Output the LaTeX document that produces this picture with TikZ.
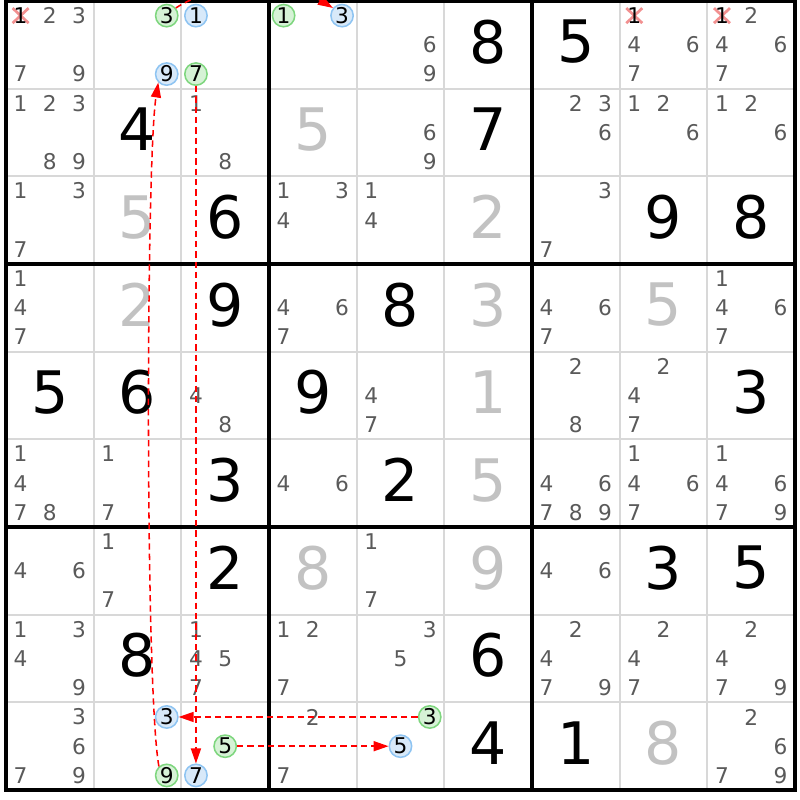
\documentclass[tikz,border=0pt]{standalone}
\usepackage{fontspec}
\setmainfont{DejaVu Sans}
\usetikzlibrary{arrows.meta}
\definecolor{candgrey}{HTML}{5A5A5A}
\definecolor{solvedgrey}{HTML}{C2C2C2}
\definecolor{thingrid}{HTML}{D8D8D8}
\definecolor{gfill}{HTML}{D6F2D6}
\definecolor{gline}{HTML}{7ED67E}
\definecolor{bfill}{HTML}{D8E9F9}
\definecolor{bline}{HTML}{8EC4F2}
\definecolor{crossred}{HTML}{F29090}
\newcommand\candpos[3]{%
  \pgfmathsetmacro\cxx{6+87.67*(#2-1)+29.222*(mod(#3-1,3)+0.5)}%
  \pgfmathsetmacro\cyy{1+87.67*(#1-1)+29.222*(int((#3-1)/3)+0.5)}}
\begin{document}
\begin{tikzpicture}[x=0.03cm,y=-0.03cm,
  cand/.style={font=\fontsize{18.5}{19}\selectfont, text=candgrey, inner sep=0pt},
  candk/.style={font=\fontsize{18.5}{19}\selectfont, text=black, inner sep=0pt},
  given/.style={font=\fontsize{50}{50}\selectfont, text=black, inner sep=0pt},
  solved/.style={font=\fontsize{50}{50}\selectfont, text=solvedgrey, inner sep=0pt},
  circg/.style={circle, draw=gline, fill=gfill, line width=1.3pt, minimum size=0.67cm, inner sep=0pt, font=\fontsize{18.5}{19}\selectfont},
  circb/.style={circle, draw=bline, fill=bfill, line width=1.3pt, minimum size=0.67cm, inner sep=0pt, font=\fontsize{18.5}{19}\selectfont},
  thinline/.style={draw=thingrid, line width=1.7pt},
  thickline/.style={draw=black, line width=3pt},
  crossmark/.style={draw=crossred, line width=2.3pt},
  chain/.style={draw=red, line width=1.3pt, dash pattern=on 1.9mm off 1.2mm, -{Triangle[length=4.5mm,width=3mm]}}
]
\useasboundingbox (0,0) rectangle (800,800);
\clip (0,0) rectangle (800,800);
\fill[white] (0,0) rectangle (800,800);
% thin grid lines
\foreach \k in {1,2,4,5,7,8} {
  \draw[thinline] ({6+87.67*\k},1) -- ({6+87.67*\k},790);
  \draw[thinline] (6,{1+87.67*\k}) -- (795,{1+87.67*\k});
}
% pencil marks
\foreach \r/\c/\ds in {
  1/1/{2,3,7,9}, 1/5/{6,9}, 1/8/{4,6,7}, 1/9/{2,4,6,7},
  2/1/{1,2,3,8,9}, 2/3/{1,8}, 2/5/{6,9}, 2/7/{2,3,6}, 2/8/{1,2,6}, 2/9/{1,2,6},
  3/1/{1,3,7}, 3/4/{1,3,4}, 3/5/{1,4}, 3/7/{3,7},
  4/1/{1,4,7}, 4/4/{4,6,7}, 4/7/{4,6,7}, 4/9/{1,4,6,7},
  5/3/{4,8}, 5/5/{4,7}, 5/7/{2,8}, 5/8/{2,4,7},
  6/1/{1,4,7,8}, 6/2/{1,7}, 6/4/{4,6}, 6/7/{4,6,7,8,9}, 6/8/{1,4,6,7}, 6/9/{1,4,6,7,9},
  7/1/{4,6}, 7/2/{1,7}, 7/5/{1,7}, 7/7/{4,6},
  8/1/{1,3,4,9}, 8/3/{1,4,5,7}, 8/4/{1,2,7}, 8/5/{3,5}, 8/7/{2,4,7,9}, 8/8/{2,4,7}, 8/9/{2,4,7,9},
  9/1/{3,6,7,9}, 9/4/{2,7}, 9/9/{2,6,7,9}} {
  \foreach \d in \ds {
    \candpos{\r}{\c}{\d}
    \node[cand] (n\r\c\d) at (\cxx,\cyy) {\d};
  }
}
% eliminated candidates
\foreach \r/\c/\d in {1/1/1, 1/8/1, 1/9/1} {
  \candpos{\r}{\c}{\d}
  \draw[crossmark] (\cxx-8,\cyy-7.5) -- (\cxx+8,\cyy+7.5) (\cxx-8,\cyy+7.5) -- (\cxx+8,\cyy-7.5);
  \node[candk] (n\r\c\d) at (\cxx,\cyy) {\d};
}
% given digits
\foreach \r/\c/\d in {1/6/8, 1/7/5, 2/2/4, 2/6/7, 3/3/6, 3/8/9, 3/9/8, 4/3/9, 4/5/8,
  5/1/5, 5/2/6, 5/4/9, 5/9/3, 6/3/3, 6/5/2, 7/3/2, 7/8/3, 7/9/5, 8/2/8, 8/6/6, 9/6/4, 9/7/1} {
  \node[given] (g\r\c) at ({6+87.67*(\c-0.5)},{1+87.67*(\r-0.5)-3}) {\d};
}
% solved digits
\foreach \r/\c/\d in {2/4/5, 3/2/5, 3/6/2, 4/2/2, 4/6/3, 4/8/5, 5/6/1, 6/6/5, 7/4/8, 7/6/9, 9/8/8} {
  \node[solved] (s\r\c) at ({6+87.67*(\c-0.5)},{1+87.67*(\r-0.5)-3}) {\d};
}
% thick box lines
\foreach \k in {3,6} {
  \draw[thickline] ({6+87.67*\k},1) -- ({6+87.67*\k},790);
  \draw[thickline] (6,{1+87.67*\k}) -- (795,{1+87.67*\k});
}
\draw[thickline] (6,1) rectangle (795,790);
% highlighted candidates
\foreach \r/\c/\d/\s in {1/2/3/g, 1/2/9/b, 1/3/1/b, 1/3/7/g, 1/4/1/g, 1/4/3/b,
  9/2/3/b, 9/2/9/g, 9/3/5/g, 9/3/7/b, 9/5/3/g, 9/5/5/b} {
  \candpos{\r}{\c}{\d}
  \node[circ\s] (n\r\c\d) at (\cxx,\cyy) {\d};
}
% chain links
\draw[chain] (n137) -- (n937);
\draw[chain] (n929.131) .. controls (145,690) and (146,160) .. (n129.225);
\draw[chain] (n953) -- (n923);
\draw[chain] (n935) -- (n955);
\draw[chain] (n123.40) .. controls (215,-18) and (290,-18) .. (n143.140);
\end{tikzpicture}
\end{document}
